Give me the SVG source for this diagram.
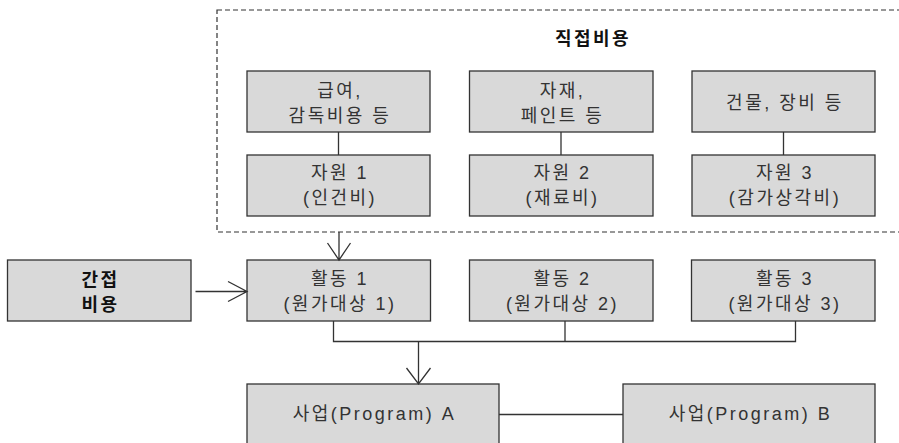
<svg xmlns="http://www.w3.org/2000/svg" width="899" height="443" viewBox="0 0 899 443">
<style>
.box{fill:#d9d9d9;stroke:#333;stroke-width:1.3}
.t{font-family:"Liberation Sans","Noto Sans CJK KR",sans-serif;font-size:18px;letter-spacing:2.5px;fill:#333;text-anchor:middle}
.b{font-weight:bold;fill:#111}
.ln{fill:none;stroke:#333;stroke-width:1.3}
</style>
<rect width="899" height="443" fill="#fff"/>
<g id="direct-cost-area">
<rect x="217" y="10" width="700" height="222" fill="none" stroke="#333" stroke-width="1.2" stroke-dasharray="5,3"/>
<text class="t b" x="593" y="45">직접비용</text>
</g>
<g id="n-salary"><rect class="box" x="247" y="71" width="183" height="61"/><text class="t" x="340" y="97">급여,</text><text class="t" x="340" y="122">감독비용 등</text></g>
<g id="n-material"><rect class="box" x="469.5" y="71" width="183.5" height="61"/><text class="t" x="562.5" y="97">자재,</text><text class="t" x="562.5" y="122">페인트 등</text></g>
<g id="n-building"><rect class="box" x="692" y="71" width="183" height="61"/><text class="t" x="785" y="109">건물, 장비 등</text></g>
<g id="n-res1"><rect class="box" x="247" y="155" width="183" height="61"/><text class="t" x="340" y="179">자원 1</text><text class="t" x="340" y="204">(인건비)</text></g>
<g id="n-res2"><rect class="box" x="469.5" y="155" width="183.5" height="61"/><text class="t" x="562.5" y="179">자원 2</text><text class="t" x="562.5" y="204">(재료비)</text></g>
<g id="n-res3"><rect class="box" x="692" y="155" width="183" height="61"/><text class="t" x="785" y="179">자원 3</text><text class="t" x="785" y="204">(감가상각비)</text></g>
<g id="n-indirect"><rect class="box" x="7.5" y="260" width="183.5" height="61"/><text class="t b" x="100.5" y="286">간접</text><text class="t b" x="100.5" y="311">비용</text></g>
<g id="n-act1"><rect class="box" x="247" y="260" width="183.5" height="61"/><text class="t" x="340" y="285">활동 1</text><text class="t" x="340" y="310">(원가대상 1)</text></g>
<g id="n-act2"><rect class="box" x="469.5" y="260" width="183.5" height="61"/><text class="t" x="562.5" y="285">활동 2</text><text class="t" x="562.5" y="310">(원가대상 2)</text></g>
<g id="n-act3"><rect class="box" x="691.5" y="260" width="183.5" height="61"/><text class="t" x="785" y="285">활동 3</text><text class="t" x="785" y="310">(원가대상 3)</text></g>
<g id="n-progA"><rect class="box" x="247" y="384" width="252" height="70"/><text class="t" x="374.5" y="420">사업(Program) A</text></g>
<g id="n-progB"><rect class="box" x="623" y="384" width="252" height="70"/><text class="t" x="750.5" y="420">사업(Program) B</text></g>
<g id="connectors" class="ln">
<path class="ln" d="M338.5 132V155M561 132V155M783.5 132V155"/>
<path class="ln" d="M339 232V260M327.5 243L339 260L350.5 243"/>
<path class="ln" d="M195.5 291.5H247M228 281.5L247 291.5L228 301.5"/>
<path class="ln" d="M333.5 321V341.5H795.5V321M565 321V341.5"/>
<path class="ln" d="M418.5 341.5V384M406.5 368L418.5 384L430.5 368"/>
<path class="ln" d="M499 414.5H623"/>
</g>
</svg>
